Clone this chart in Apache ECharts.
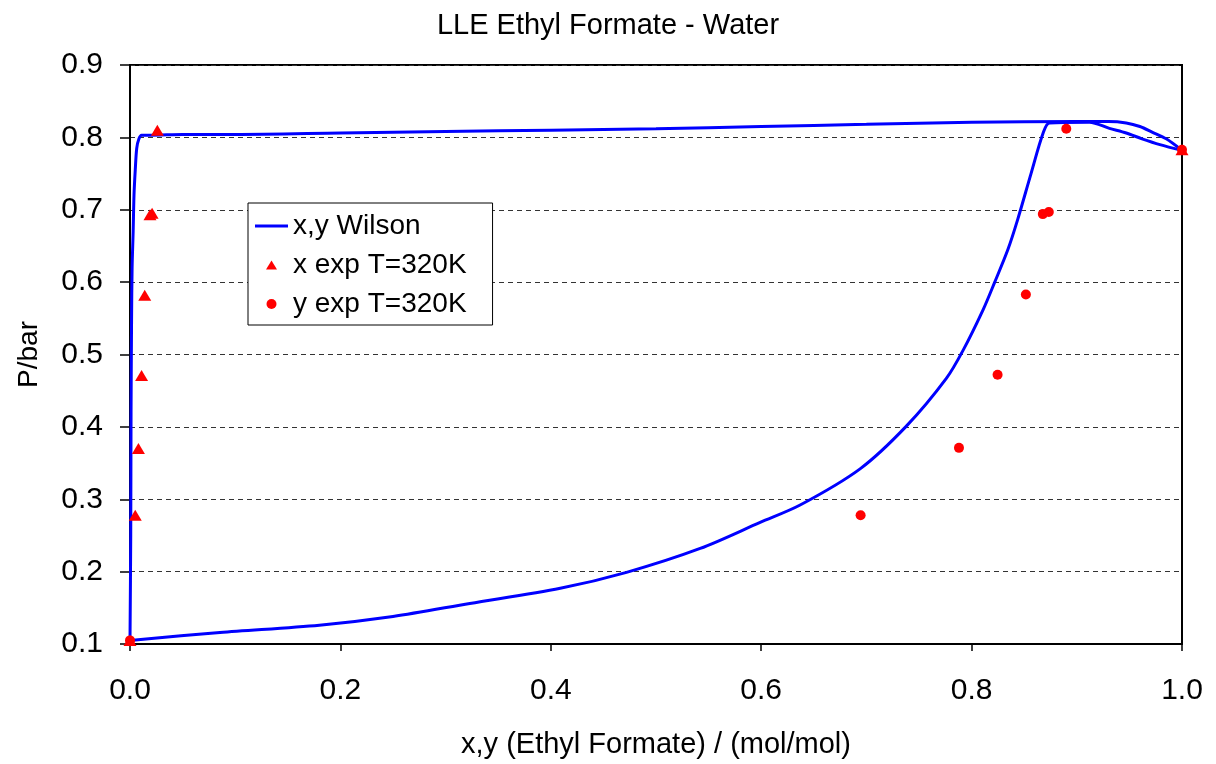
<!DOCTYPE html>
<html>
<head>
<meta charset="utf-8">
<title>LLE Ethyl Formate - Water</title>
<script src="https://cdn.jsdelivr.net/npm/echarts@6/dist/echarts.min.js"></script>
<style>
  html, body { margin: 0; padding: 0; background: #fff; }
  #chart { width: 1216px; height: 764px; }
</style>
</head>
<body>
<div id="chart"></div>
<script>
// Wilson model, liquid branch (x)
const liqX = [0, 0.0007, 0.0010, 0.0015, 0.0020, 0.0030, 0.0038, 0.0050, 0.0064, 0.0085, 0.011, 0.02, 0.05, 0.1, 0.2, 0.3, 0.4, 0.5, 0.6, 0.7, 0.8, 0.9, 0.93, 0.947, 0.96, 0.972, 0.985, 1.0];
const liqP = [0.105, 0.25, 0.42, 0.55, 0.62, 0.67, 0.72, 0.755, 0.785, 0.798, 0.803, 0.803, 0.804, 0.804, 0.806, 0.808, 0.810, 0.812, 0.815, 0.818, 0.821, 0.822, 0.822, 0.820, 0.815, 0.807, 0.798, 0.782];

// Wilson model, vapour branch (y)
const vapX = [0, 0.0855, 0.18, 0.25, 0.323, 0.409, 0.472, 0.542, 0.599, 0.637, 0.694, 0.738, 0.776, 0.792, 0.811, 0.822, 0.8345, 0.8437, 0.8565, 0.868, 0.874, 0.912, 0.931, 0.947, 0.962, 0.979, 1.0];
const vapP = [0.105, 0.116, 0.126, 0.138, 0.156, 0.177, 0.199, 0.232, 0.268, 0.292, 0.342, 0.401, 0.467, 0.506, 0.562, 0.600, 0.645, 0.686, 0.750, 0.806, 0.820, 0.821, 0.8125, 0.806, 0.798, 0.790, 0.782];

// experimental points at T = 320 K
const xExpX = [0, 0.005, 0.008, 0.011, 0.014, 0.019, 0.021, 0.026, 1.0];
const xExpP = [0.105, 0.278, 0.370, 0.471, 0.582, 0.693, 0.695, 0.810, 0.783];
const yExpY = [0, 0.6945, 0.788, 0.8247, 0.8516, 0.8677, 0.8734, 0.890, 1.0];
const yExpP = [0.105, 0.278, 0.371, 0.472, 0.583, 0.694, 0.697, 0.812, 0.783];

const pair = (xs, ps) => xs.map((v, i) => [v, ps[i]]);

const FONT = "'Liberation Sans', Arial, sans-serif";

// legend icons: the first two moves pin the box to 33x11 so shapes keep their size
const ICON_LINE = 'path://M0,0 M33,11 M0,4 L33,4 L33,7 L0,7 Z';
const ICON_TRI = 'path://M0,0 M33,11 M11,10 L16.5,1 L22,10 Z';
const ICON_DOT = 'path://M0,0 M33,11 M11.5,5.5 A5,5 0 1,1 21.5,5.5 A5,5 0 1,1 11.5,5.5 Z';

const chart = echarts.init(document.getElementById('chart'), null, { renderer: 'canvas' });

const option = {
  animation: false,
  backgroundColor: '#fff',
  title: {
    text: 'LLE Ethyl Formate - Water',
    left: 'center',
    top: 6,
    textStyle: { fontFamily: FONT, fontSize: 29, fontWeight: 'normal', color: '#000' }
  },
  legend: {
    orient: 'vertical',
    left: 248,
    top: 203,
    padding: [8, 26, 6, 7],
    itemGap: 9,
    itemWidth: 33,
    itemHeight: 11,
    backgroundColor: '#fff',
    borderColor: '#000',
    borderWidth: 1,
    borderRadius: 0,
    data: [
      { name: 'x,y Wilson', icon: ICON_LINE },
      { name: 'x exp T=320K', icon: ICON_TRI },
      { name: 'y exp T=320K', icon: ICON_DOT }
    ],
    textStyle: { fontFamily: FONT, fontSize: 28, color: '#000', lineHeight: 30 }
  },
  grid: {
    left: 130,
    right: 34,
    top: 65,
    bottom: 120,
    show: true,
    borderColor: '#000',
    borderWidth: 2,
    backgroundColor: '#fff'
  },
  xAxis: {
    type: 'value',
    min: 0,
    max: 1,
    interval: 0.2,
    name: 'x,y (Ethyl Formate) / (mol/mol)',
    nameLocation: 'middle',
    nameGap: 86,
    nameTextStyle: { fontFamily: FONT, fontSize: 29, color: '#000' },
    axisLine: { onZero: false, lineStyle: { color: '#000', width: 2 } },
    axisTick: { show: true, inside: false, length: 7, lineStyle: { color: '#000', width: 1.5 } },
    axisLabel: {
      margin: 32,
      fontFamily: FONT, fontSize: 30, color: '#000',
      formatter: v => v.toFixed(1)
    },
    splitLine: { show: false }
  },
  yAxis: {
    type: 'value',
    min: 0.1,
    max: 0.9,
    interval: 0.1,
    name: 'P/bar',
    nameLocation: 'middle',
    nameGap: 87,
    nameTextStyle: { fontFamily: FONT, fontSize: 28, color: '#000' },
    axisLine: { onZero: false, lineStyle: { color: '#000', width: 2 } },
    axisTick: { show: true, inside: false, length: 10, lineStyle: { color: '#000', width: 1.5 } },
    axisLabel: {
      margin: 27,
      fontFamily: FONT, fontSize: 30, color: '#000',
      formatter: v => v.toFixed(1)
    },
    splitLine: { show: true, lineStyle: { color: '#333', width: 1, type: [5, 4] } }
  },
  series: [
    {
      name: 'x,y Wilson',
      type: 'line',
      data: pair(liqX, liqP),
      symbol: 'none',
      smooth: 0.3,
      lineStyle: { color: '#0000ff', width: 3 },
      itemStyle: { color: '#0000ff' },
      z: 2
    },
    {
      name: 'x,y Wilson',
      type: 'line',
      data: pair(vapX, vapP),
      symbol: 'none',
      smooth: 0.3,
      lineStyle: { color: '#0000ff', width: 3 },
      itemStyle: { color: '#0000ff' },
      z: 2
    },
    {
      name: 'x exp T=320K',
      type: 'scatter',
      data: pair(xExpX, xExpP),
      symbol: 'triangle',
      symbolSize: [13, 11],
      itemStyle: { color: '#ff0000', opacity: 1 },
      z: 3
    },
    {
      name: 'y exp T=320K',
      type: 'scatter',
      data: pair(yExpY, yExpP),
      symbol: 'circle',
      symbolSize: 10,
      itemStyle: { color: '#ff0000', opacity: 1 },
      z: 3
    }
  ]
};

chart.setOption(option);
</script>
</body>
</html>
